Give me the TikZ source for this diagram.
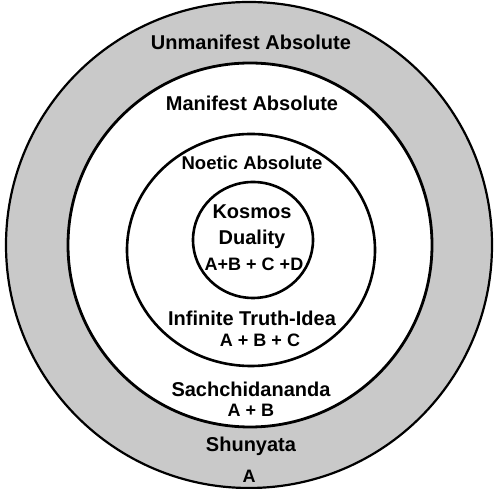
\documentclass[tikz,border=0pt]{standalone}
\usepackage{fontspec}
\setmainfont{Liberation Sans}
\begin{document}
\begin{tikzpicture}[x=1pt,y=1pt,
  lbl/.style={font=\bfseries\fontsize{20}{20}\selectfont, inner sep=0pt, anchor=center},
  frm/.style={font=\bfseries\fontsize{18}{18}\selectfont, inner sep=0pt, anchor=center},
  ringline/.style={line width=2.6pt}]
\useasboundingbox (0,0) rectangle (495,489);
\fill[black!21, even odd rule] (249,244) circle[radius=243pt] (250,244) circle[radius=182pt];
\draw[line width=2.2pt] (249,244) circle[radius=243pt];
\draw[line width=2.8pt] (250,244) circle[radius=182pt];
\draw[ringline] (251,239) ellipse[x radius=124pt, y radius=116pt];
\draw[ringline] (253,249) ellipse[x radius=60pt, y radius=58pt];
\node[lbl] (unman) at (251,447) {Unmanifest Absolute};
\node[lbl] (man) at (252,386) {Manifest Absolute};
\node[lbl, font=\bfseries\fontsize{18.5}{18.5}\selectfont] (noe) at (252,326) {Noetic Absolute};
\node[lbl] (kos) at (252,277) {Kosmos};
\node[lbl] (dua) at (252,250) {Duality};
\node[frm] (abcd) at (254,225) {A+B + C +D};
\node[lbl] (inf) at (252,171) {Infinite Truth-Idea};
\node[frm] (abc) at (260,149) {A + B + C};
\node[lbl] (sach) at (251,100) {Sachchidananda};
\node[frm] (ab) at (251,79) {A + B};
\node[lbl] (shun) at (251,43) {Shunyata};
\node[frm] (a) at (249,13) {A};
\end{tikzpicture}
\end{document}
